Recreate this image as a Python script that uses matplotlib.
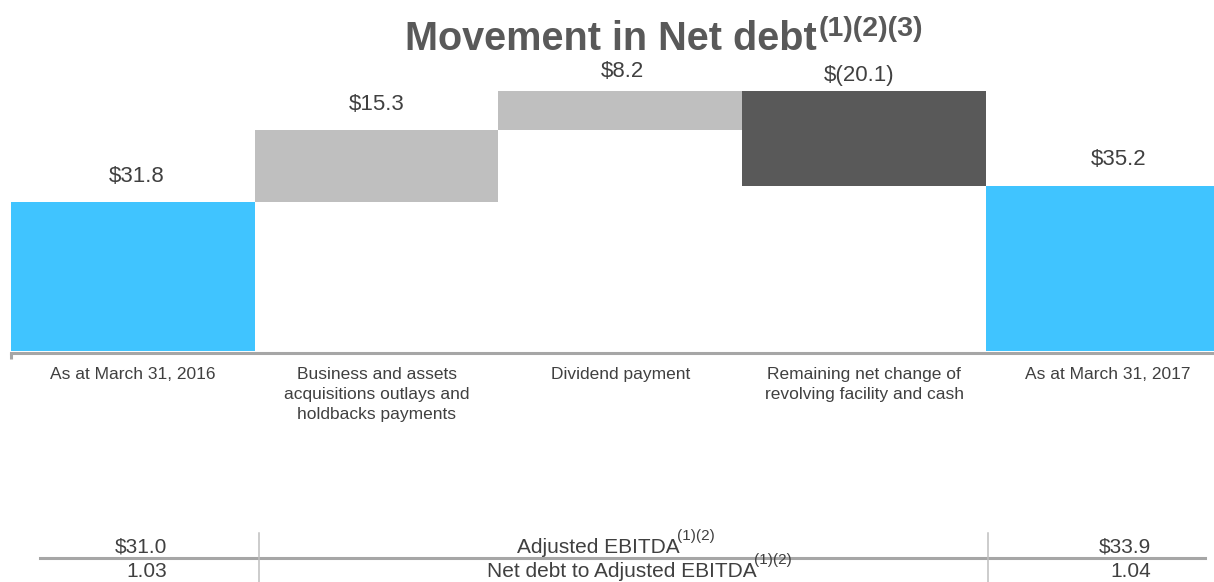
import matplotlib
matplotlib.use("Agg")
import matplotlib.pyplot as plt
from matplotlib.lines import Line2D

plt.rcParams['font.family'] = ['Liberation Sans', 'DejaVu Sans']

# ---------------- data ----------------
categories = ["As at March 31, 2016",
              "Business and assets\nacquisitions outlays and\nholdbacks payments",
              "Dividend payment",
              "Remaining net change of\nrevolving facility and cash",
              "As at March 31, 2017"]
values = [31.8, 15.3, 8.2, -20.1, 35.2]
kinds = ["total", "delta", "delta", "delta", "total"]
title_main = "Movement in Net debt"
title_sup = "(1)(2)(3)"
row_labels = ["Adjusted EBITDA", "Net debt to Adjusted EBITDA"]
row_sup = "(1)(2)"
row_2016 = ["$31.0", "1.03"]
row_2017 = ["$33.9", "1.04"]

# ---------------- style ----------------
W, H = 1214, 582
BLUE = "#40C4FF"
LIGHT = "#BFBFBF"
DARK = "#595959"
TXT = "#404040"
AXGRAY = "#A6A6A6"

fig = plt.figure(figsize=(W / 100, H / 100), dpi=100)

def fx(px):
    return px / W

def fy(py):
    return (H - py) / H

ax = fig.add_axes([fx(11), fy(351), fx(1214) - fx(11), fy(60) - fy(351)])

# waterfall geometry from the values
bottoms, heights, colors = [], [], []
running = 0.0
for v, k in zip(values, kinds):
    if k == "total":
        bottoms.append(0.0)
        heights.append(v)
        colors.append(BLUE)
        running = v
    else:
        if v >= 0:
            bottoms.append(running)
            colors.append(LIGHT)
        else:
            bottoms.append(running + v)
            colors.append(DARK)
        heights.append(abs(v))
        running += v

xs = list(range(len(values)))
ax.bar(xs, heights, bottom=bottoms, width=1.0, color=colors, linewidth=0)
ax.set_xlim(-0.5, 4.436)
ax.set_ylim(0, 62)

for s in ["top", "right", "left"]:
    ax.spines[s].set_visible(False)
ax.spines["bottom"].set_color(AXGRAY)
ax.spines["bottom"].set_linewidth(2.2)
ax.spines["bottom"].set_position(("outward", 1.2))
ax.set_yticks([])
ax.set_xticks([-0.5])
ax.set_xticklabels([""])
ax.tick_params(axis="x", length=4, width=2.2, color=AXGRAY, direction="out")

def fmt(v):
    return f"${v:.1f}" if v >= 0 else f"$({abs(v):.1f})"

label_dy_px = [25, 25, 20, 16, 26]
label_dx_px = [4, 0, 2, -5, 11]
for i, (b, h, v) in enumerate(zip(bottoms, heights, values)):
    ax.annotate(fmt(v), xy=(i, b + h), xytext=(label_dx_px[i] * 0.72, label_dy_px[i] * 0.72),
                textcoords="offset points", ha="center", va="center",
                fontsize=16, color=TXT, annotation_clip=False)

for i, c in enumerate(categories):
    ax.annotate(c, xy=(i, 0), xycoords=("data", "axes fraction"),
                xytext=(0, -11.5), textcoords="offset points",
                ha="center", va="top", fontsize=12.5, color=TXT,
                linespacing=1.42, annotation_clip=False)

# ---------------- texts with superscripts ----------------
renderer = fig.canvas.get_renderer()

def sup_text(x_left, y_base, main, sup, size, supsize, rise, weight, color, gap):
    t1 = fig.text(fx(x_left), fy(y_base), main, fontsize=size, fontweight=weight,
                  color=color, ha="left", va="baseline")
    w1 = t1.get_window_extent(renderer).width
    fig.text(fx(x_left + w1 + gap), fy(y_base - rise), sup, fontsize=supsize,
             fontweight=weight, color=color, ha="left", va="baseline")

sup_text(405, 50, title_main, title_sup, 28.5, 20.5, 14, "bold", DARK, 2)

# ---------------- bottom table ----------------
fig.add_artist(Line2D([fx(40), fx(1205)], [fy(557.7), fy(557.7)],
                      color=AXGRAY, linewidth=2.2, transform=fig.transFigure))
for xv in [259, 988]:
    fig.add_artist(Line2D([fx(xv), fx(xv)], [fy(533), fy(582)],
                          color=LIGHT, linewidth=1.1, transform=fig.transFigure))

row_base = [553, 577]
row_left = [517, 487]
for r in range(2):
    fig.text(fx(167), fy(row_base[r]), row_2016[r], fontsize=15, color=TXT,
             ha="right", va="baseline")
    fig.text(fx(1151), fy(row_base[r]), row_2017[r], fontsize=15, color=TXT,
             ha="right", va="baseline")
    sup_text(row_left[r], row_base[r], row_labels[r], row_sup, 15, 11, 13, "normal", TXT, -3)

fig.savefig("out.png", dpi=100)
